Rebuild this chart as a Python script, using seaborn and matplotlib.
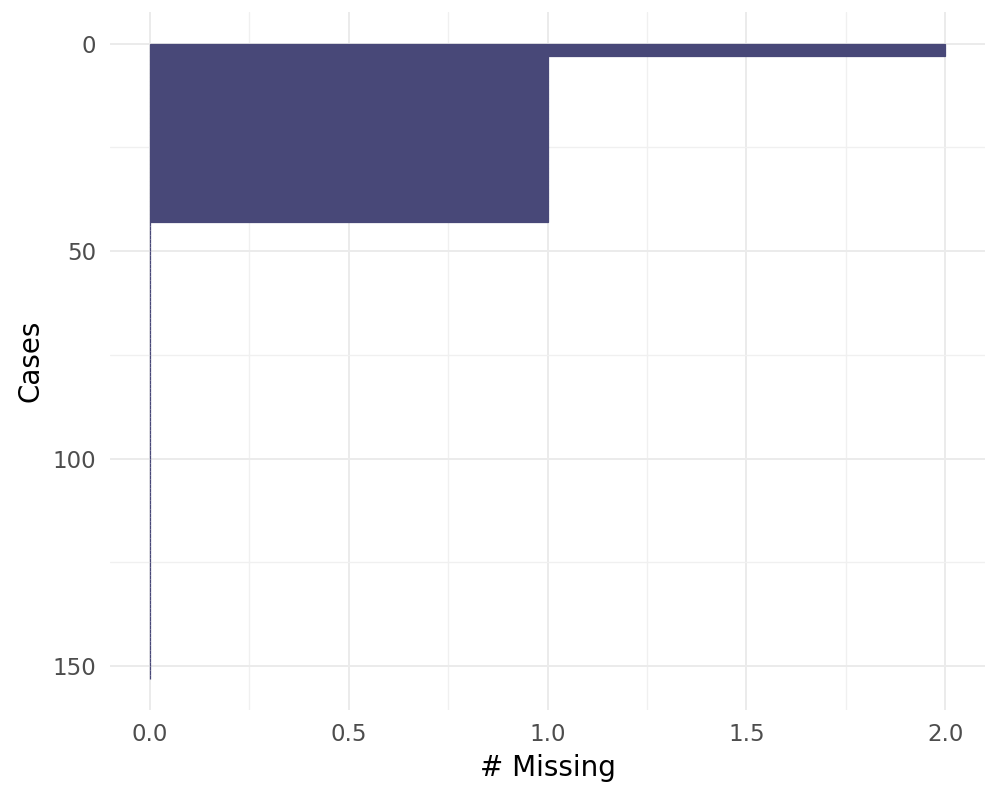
import numpy as np
import pandas as pd
import matplotlib.pyplot as plt
import seaborn as sns
from matplotlib.ticker import MultipleLocator

# number of missing values per case, sorted descending
n_two = 3
n_one = 40
n_zero = 110
n_missing = [2] * n_two + [1] * n_one + [0] * n_zero
cases = list(range(1, len(n_missing) + 1))

df = pd.DataFrame({'case': cases, 'n_miss': n_missing})
df['case_pos'] = df['case'] - 0.5

sns.set_theme(style="white")
plt.rcParams['font.family'] = ['DejaVu Sans']

fig, ax = plt.subplots(figsize=(10, 8), dpi=100)
fig.subplots_adjust(left=0.11, right=0.985, top=0.985, bottom=0.112)

bar_col = '#484878'
sns.barplot(data=df, x='n_miss', y='case_pos', orient='h', native_scale=True,
            width=1, color=bar_col, saturation=1, linewidth=0.9,
            edgecolor=bar_col, ax=ax)

ax.set_xlim(-0.1, 2.1)
ax.set_ylim(153 * 1.05, -153 * 0.05)
ax.xaxis.set_major_locator(MultipleLocator(0.5))
ax.xaxis.set_minor_locator(MultipleLocator(0.25))
ax.yaxis.set_major_locator(MultipleLocator(50))
ax.yaxis.set_minor_locator(MultipleLocator(25))
ax.xaxis.set_major_formatter(plt.FuncFormatter(lambda v, p: f'{v:.1f}'))
ax.yaxis.set_major_formatter(plt.FuncFormatter(lambda v, p: f'{v:.0f}'))

ax.grid(which='major', color='#EBEBEB', linewidth=1.4)
ax.grid(which='minor', color='#F0F0F0', linewidth=1.0)
ax.set_axisbelow(True)
for s in ax.spines.values():
    s.set_visible(False)
ax.tick_params(which='both', length=0, labelsize=16.5, labelcolor='#4D4D4D')
ax.tick_params(axis='x', pad=9)
ax.tick_params(axis='y', pad=10)

ax.set_xlabel('# Missing', fontsize=20, color='black', labelpad=6)
ax.set_ylabel('Cases', fontsize=20, color='black', labelpad=6)

plt.savefig('out.png')
plt.close()
